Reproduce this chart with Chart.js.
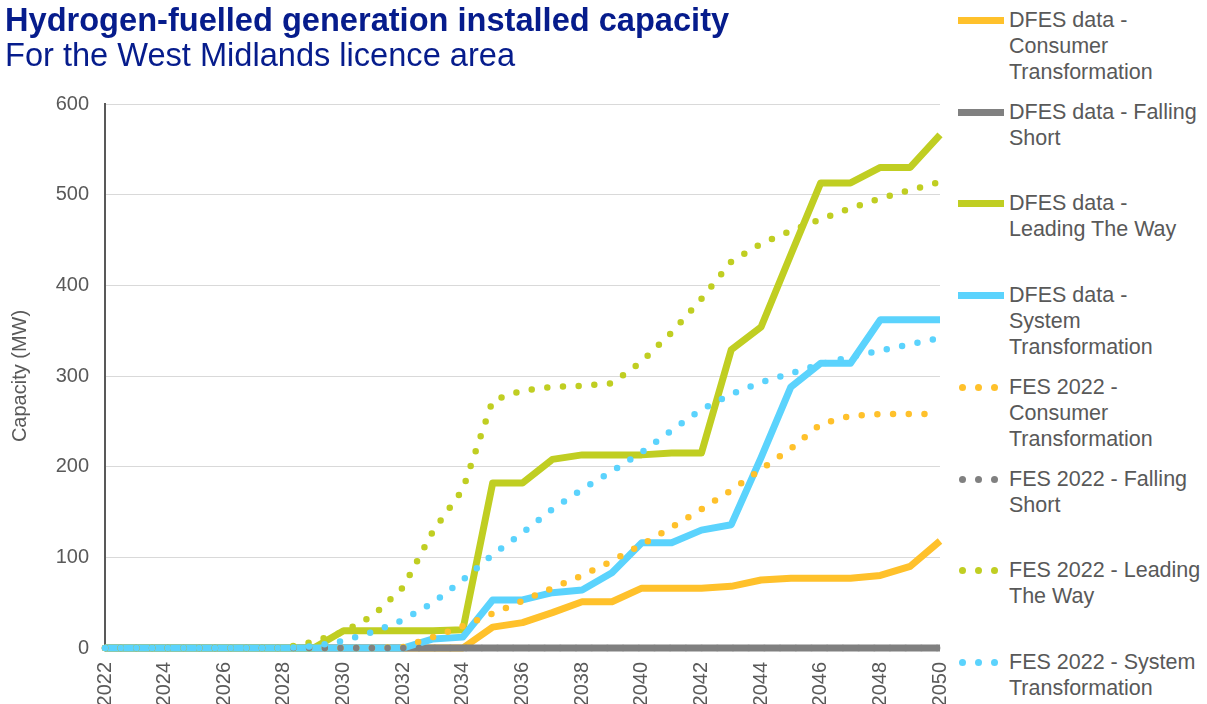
<!DOCTYPE html>
<html>
<head>
<meta charset="utf-8">
<script src="https://cdn.jsdelivr.net/npm/chart.js@4"></script>
<style>
  html, body { margin: 0; padding: 0; background: #ffffff; }
  body { width: 1207px; height: 704px; position: relative; overflow: hidden;
         font-family: "Liberation Sans", Arial, sans-serif; }
  #chartBox { position: absolute; left: 0; top: 0; width: 950px; height: 704px; }
  #titulo { position: absolute; left: 5px; top: 1px; color: #061C8C; font-size: 32.6px;
            font-weight: bold; line-height: 37px; white-space: nowrap; }
  #subtitulo { position: absolute; left: 5px; top: 36px; color: #061C8C; font-size: 32.6px;
               line-height: 37px; white-space: nowrap; }
  .leg { position: absolute; left: 958px; color: #595959; font-size: 21.5px; line-height: 26px; }
  .leg .txt { position: absolute; left: 51px; top: 0; white-space: nowrap; }
  .leg .simb { position: absolute; left: 0; top: 10px; width: 46px; height: 7px; }
  .leg .dot { position: absolute; top: 0; width: 7px; height: 7px; border-radius: 50%; }
</style>
</head>
<body>
<div id="chartBox"><canvas id="grafico"></canvas></div>
<div id="titulo">Hydrogen-fuelled generation installed capacity</div>
<div id="subtitulo">For the West Midlands licence area</div>
<div id="legenda"></div>

<script>
// anos no eixo X
const anos = [2022, 2023, 2024, 2025, 2026, 2027, 2028, 2029, 2030, 2031, 2032, 2033, 2034, 2035,
              2036, 2037, 2038, 2039, 2040, 2041, 2042, 2043, 2044, 2045, 2046, 2047, 2048, 2049, 2050];

// DFES (linhas sólidas)
const dfesConsumer = [0, 0, 0, 0, 0, 0, 0, 0, 0, 0, 0, 0, 0, 23, 28, 39, 51, 51, 66, 66, 66, 68, 75, 77, 77, 77, 80, 90, 118];
const dfesFalling  = [0, 0, 0, 0, 0, 0, 0, 0, 0, 0, 0, 0, 0, 0, 0, 0, 0, 0, 0, 0, 0, 0, 0, 0, 0, 0, 0, 0, 0];
const dfesLeading  = [0, 0, 0, 0, 0, 0, 0, 0, 19, 19, 19, 19, 20, 182, 182, 208, 213, 213, 213, 215, 215, 329, 354, 434, 513, 513, 530, 530, 566];
const dfesSystem   = [0, 0, 0, 0, 0, 0, 0, 0, 0, 0, 0, 10, 12, 53, 53, 61, 64, 83, 116, 116, 130, 136, 210, 288, 314, 314, 362, 362, 362];

// FES 2022 (linhas pontilhadas)
const fesConsumer = [0, 0, 0, 0, 0, 0, 0, 0, 0, 0, 1, 12, 24, 38, 52, 66, 80, 96, 114, 133, 153, 174, 197, 220, 247, 256, 258, 258, 258];
const fesFalling  = [0, 0, 0, 0, 0, 0, 0, 0, 0, 0, 0, 0, 0, 0, 0, 0, 0, 0, 0, 0, 0, 0, 0, 0, 0, 0, 0, 0, 0];
const fesLeading  = [0, 0, 0, 0, 0, 0, 0, 7, 18, 36, 67, 129, 175, 273, 284, 288, 289, 292, 316, 348, 385, 426, 446, 460, 473, 485, 496, 505, 514];
const fesSystem   = [0, 0, 0, 0, 0, 0, 0, 2, 8, 18, 31, 50, 75, 103, 127, 153, 175, 195, 216, 240, 263, 280, 293, 303, 313, 321, 328, 335, 342];

// rótulos da legenda (já quebrados em linhas)
const rotulos = [
    ['DFES data -', 'Consumer', 'Transformation'],
    ['DFES data - Falling', 'Short'],
    ['DFES data -', 'Leading The Way'],
    ['DFES data -', 'System', 'Transformation'],
    ['FES 2022 -', 'Consumer', 'Transformation'],
    ['FES 2022 - Falling', 'Short'],
    ['FES 2022 - Leading', 'The Way'],
    ['FES 2022 - System', 'Transformation']
];

const yTicks = [0, 100, 200, 300, 400, 500, 600];

const cores = { laranja: '#FFC12B', cinza: '#808080', verde: '#C0CE22', azul: '#5BD3FD' };

const series = [
    { dados: dfesConsumer, cor: cores.laranja, pontilhado: false },
    { dados: dfesFalling,  cor: cores.cinza,   pontilhado: false },
    { dados: dfesLeading,  cor: cores.verde,   pontilhado: false },
    { dados: dfesSystem,   cor: cores.azul,    pontilhado: false },
    { dados: fesConsumer,  cor: cores.laranja, pontilhado: true },
    { dados: fesFalling,   cor: cores.cinza,   pontilhado: true },
    { dados: fesLeading,   cor: cores.verde,   pontilhado: true },
    { dados: fesSystem,    cor: cores.azul,    pontilhado: true }
];

const datasets = series.map((s, i) => ({
    label: rotulos[i].join(' '),
    data: s.dados,
    borderColor: s.cor,
    backgroundColor: s.cor,
    borderWidth: s.pontilhado ? 6.5 : 7,
    borderDash: s.pontilhado ? [0, 15.7] : [],
    borderCapStyle: s.pontilhado ? 'round' : 'butt',
    borderJoinStyle: 'round',
    pointRadius: 0,
    tension: 0,
    fill: false,
    clip: false,
    order: series.length - 1 - i   // ultima serie por cima, como no Excel
}));

const fonte = '"Liberation Sans", Arial, sans-serif';

new Chart(document.getElementById('grafico'), {
    type: 'line',
    data: { labels: anos, datasets: datasets },
    options: {
        responsive: true,
        maintainAspectRatio: false,
        animation: false,
        layout: { padding: { top: 104, right: 10, left: 0, bottom: 0 } },
        plugins: { legend: { display: false }, tooltip: { enabled: false } },
        scales: {
            x: {
                type: 'category',
                offset: false,
                grid: { display: false },
                border: { display: false },
                ticks: {
                    autoSkip: false,
                    minRotation: 90,
                    maxRotation: 90,
                    padding: 6,
                    color: '#595959',
                    font: { family: fonte, size: 20 },
                    callback: function (v, idx) {
                        const ano = anos[idx];
                        return ano % 2 === 0 ? String(ano) : '';
                    }
                },
                afterFit: (scale) => {
                    scale.height = 56;
                    scale.paddingLeft = 0;
                    scale.paddingRight = 0;
                }
            },
            y: {
                min: yTicks[0],
                max: yTicks[yTicks.length - 1],
                grid: { color: '#D9D9D9', lineWidth: 1, drawTicks: false },
                border: { display: true, color: '#595959', width: 2 },
                ticks: {
                    stepSize: 100,
                    padding: 16,
                    color: '#595959',
                    font: { family: fonte, size: 20 }
                },
                title: {
                    display: true,
                    text: 'Capacity (MW)',
                    color: '#595959',
                    font: { family: fonte, size: 20 },
                    padding: { top: 8, bottom: 0 }
                },
                afterFit: (scale) => {
                    scale.width = 105;
                    scale.paddingTop = 0;
                    scale.paddingBottom = 0;
                }
            }
        }
    }
});

// legenda em HTML ao lado direito
const legenda = document.getElementById('legenda');
series.forEach((s, i) => {
    const item = document.createElement('div');
    item.className = 'leg';
    item.style.top = (7 + i * 91.7) + 'px';

    const simb = document.createElement('div');
    simb.className = 'simb';
    if (s.pontilhado) {
        [1, 17, 33].forEach(x => {
            const d = document.createElement('span');
            d.className = 'dot';
            d.style.left = x + 'px';
            d.style.background = s.cor;
            simb.appendChild(d);
        });
    } else {
        simb.style.background = s.cor;
    }

    const txt = document.createElement('div');
    txt.className = 'txt';
    txt.innerHTML = rotulos[i].join('<br>');

    item.appendChild(simb);
    item.appendChild(txt);
    legenda.appendChild(item);
});
</script>
</body>
</html>
